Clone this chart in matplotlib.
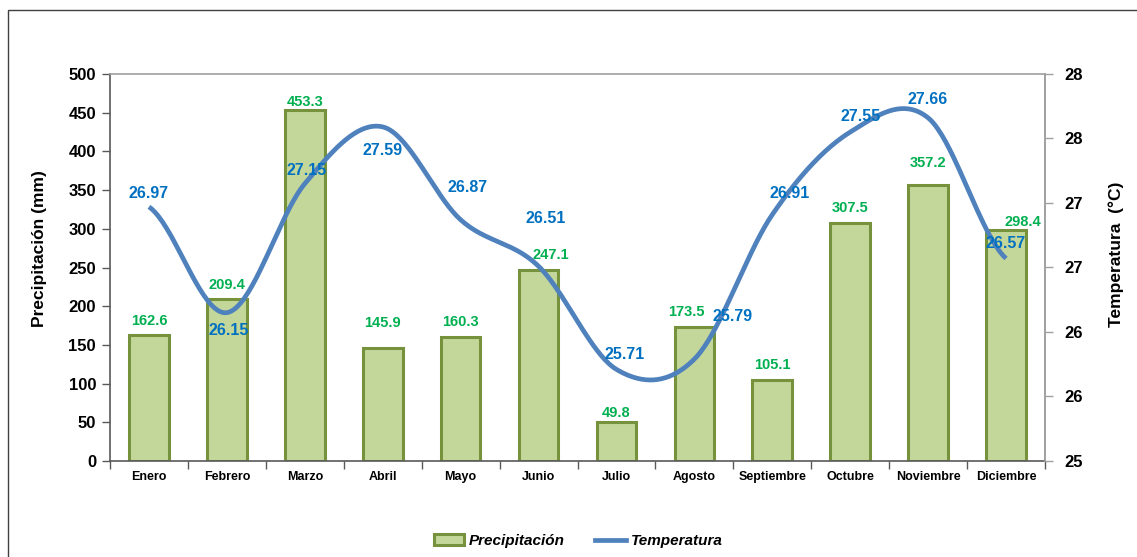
import math
import numpy as np
import matplotlib
matplotlib.use("Agg")
import matplotlib.pyplot as plt
from matplotlib.patches import Patch, Rectangle
from matplotlib.lines import Line2D
from matplotlib.ticker import FixedLocator, FuncFormatter

plt.rcParams['font.family'] = ['Liberation Sans', 'DejaVu Sans']

months = ["Enero", "Febrero", "Marzo", "Abril", "Mayo", "Junio", "Julio",
          "Agosto", "Septiembre", "Octubre", "Noviembre", "Diciembre"]
precip = [162.6, 209.4, 453.3, 145.9, 160.3, 247.1, 49.8, 173.5, 105.1, 307.5, 357.2, 298.4]
temp = [26.97, 26.15, 27.15, 27.59, 26.87, 26.51, 25.71, 25.79, 26.91, 27.55, 27.66, 26.57]

# label offsets in pixels (style only)
p_off = [(0, 14), (0, 14), (0, 8), (0, 25), (0, 15), (12, 15), (0, 9), (-8, 15),
         (0, 15), (0, 15), (0, 22), (17, 8)]
t_off = [(0, 13), (2, -18), (2, 13), (0, -24), (7, 32), (7, 48), (8, 15), (38, 43),
         (17, 21), (10, 16), (0, 18), (0, 15)]

W, H = 1137, 557
fig = plt.figure(figsize=(W / 100, H / 100), dpi=100)
ax = fig.add_axes([110 / W, 1 - 461 / H, (1045 - 110) / W, (461 - 74) / H])
ax2 = ax.twinx()

bar_face = "#C4D79B"
bar_edge = "#76923C"
line_col = "#4F81BD"
green_lbl = "#00B050"
blue_lbl = "#0070C0"

x = np.arange(len(months))
ax.bar(x, precip, width=0.51, color=bar_face, edgecolor=bar_edge, linewidth=2.2, zorder=2)
ax.set_xlim(-0.5, len(months) - 0.5)
ax.set_ylim(0, 500)
ax.set_yticks(np.arange(0, 501, 50))
ax.set_xticks(x)
ax.set_xticklabels(months, fontsize=9, fontweight='bold')
ax.xaxis.set_minor_locator(FixedLocator(np.arange(-0.5, len(months), 1.0)))
ax.tick_params(axis='x', which='major', length=0, pad=7)
ax.tick_params(axis='x', which='minor', length=6, width=1, color='#595959', direction='out')
ax.tick_params(axis='y', length=6, width=1, color='#595959', labelsize=12, pad=4)
for lbl in ax.get_yticklabels():
    lbl.set_fontweight('bold')
ax.set_ylabel("Precipitación (mm)", fontsize=12.5, fontweight='bold')
ax.yaxis.set_label_coords(-0.067, 0.548)

for s in ['left', 'bottom']:
    ax.spines[s].set_color('#595959')
    ax.spines[s].set_linewidth(1.2)
for s in ['top', 'right']:
    ax.spines[s].set_color('#A0A0A0')
    ax.spines[s].set_linewidth(1.2)
for s in ax2.spines.values():
    s.set_visible(False)
ax2.spines['right'].set_visible(True)
ax2.spines['right'].set_color('#A0A0A0')
ax2.spines['right'].set_linewidth(1.2)

for i, v in enumerate(precip):
    ax.annotate(f"{v:.1f}", (x[i], v), xytext=p_off[i], textcoords='offset pixels',
                ha='center', va='center', color=green_lbl, fontsize=10.5, fontweight='bold', zorder=5)

# smooth line (Catmull-Rom)
def catmull(xs, ys, n=40):
    xs = np.asarray(xs, float); ys = np.asarray(ys, float)
    px = np.concatenate([[2 * xs[0] - xs[1]], xs, [2 * xs[-1] - xs[-2]]])
    py = np.concatenate([[ys[0]], ys, [ys[-1]]])
    ox, oy = [], []
    for i in range(1, len(px) - 2):
        t = np.linspace(0, 1, n, endpoint=False)
        for arr, out in ((px, ox), (py, oy)):
            p0, p1, p2, p3 = arr[i - 1], arr[i], arr[i + 1], arr[i + 2]
            out.extend(0.5 * ((2 * p1) + (-p0 + p2) * t + (2 * p0 - 5 * p1 + 4 * p2 - p3) * t ** 2
                              + (-p0 + 3 * p1 - 3 * p2 + p3) * t ** 3))
    ox.append(xs[-1]); oy.append(ys[-1])
    return np.array(ox), np.array(oy)

sx, sy = catmull(x, temp)
ax2.plot(sx, sy, color=line_col, linewidth=3.4, solid_capstyle='butt', zorder=3)
ax2.set_ylim(25, 28)
ax2.set_yticks(np.arange(25, 28.01, 0.5))
ax2.yaxis.set_major_formatter(FuncFormatter(lambda v, p: f"{math.floor(v + 0.5):d}"))
ax2.tick_params(axis='y', length=6, width=1, color='#A0A0A0', labelsize=12, pad=8)
for lbl in ax2.get_yticklabels():
    lbl.set_fontweight('bold')
ax2.set_ylabel("Temperatura  (°C)", fontsize=12.5, fontweight='bold')
ax2.yaxis.set_label_coords(1.068, 0.535)

for i, v in enumerate(temp):
    ax2.annotate(f"{v:.2f}", (x[i], v), xytext=t_off[i], textcoords='offset pixels',
                 ha='center', va='center', color=blue_lbl, fontsize=11.5, fontweight='bold', zorder=6)

handles = [Patch(facecolor=bar_face, edgecolor=bar_edge, linewidth=2.2),
           Line2D([0], [0], color=line_col, linewidth=3.4)]
fig.legend(handles, ["Precipitación", "Temperatura"], loc='center', ncol=2,
           bbox_to_anchor=(578 / W, 1 - 541 / H), frameon=False,
           prop={'size': 11, 'weight': 'bold', 'style': 'italic'},
           handlelength=2.0, handletextpad=0.3, columnspacing=2.0)

fig.patches.append(Rectangle((8 / W, -0.05), 1.2, 1 - 10 / H + 0.05, transform=fig.transFigure,
                             fill=False, edgecolor='#404040', linewidth=1.0))

fig.savefig("out.png", dpi=100)
